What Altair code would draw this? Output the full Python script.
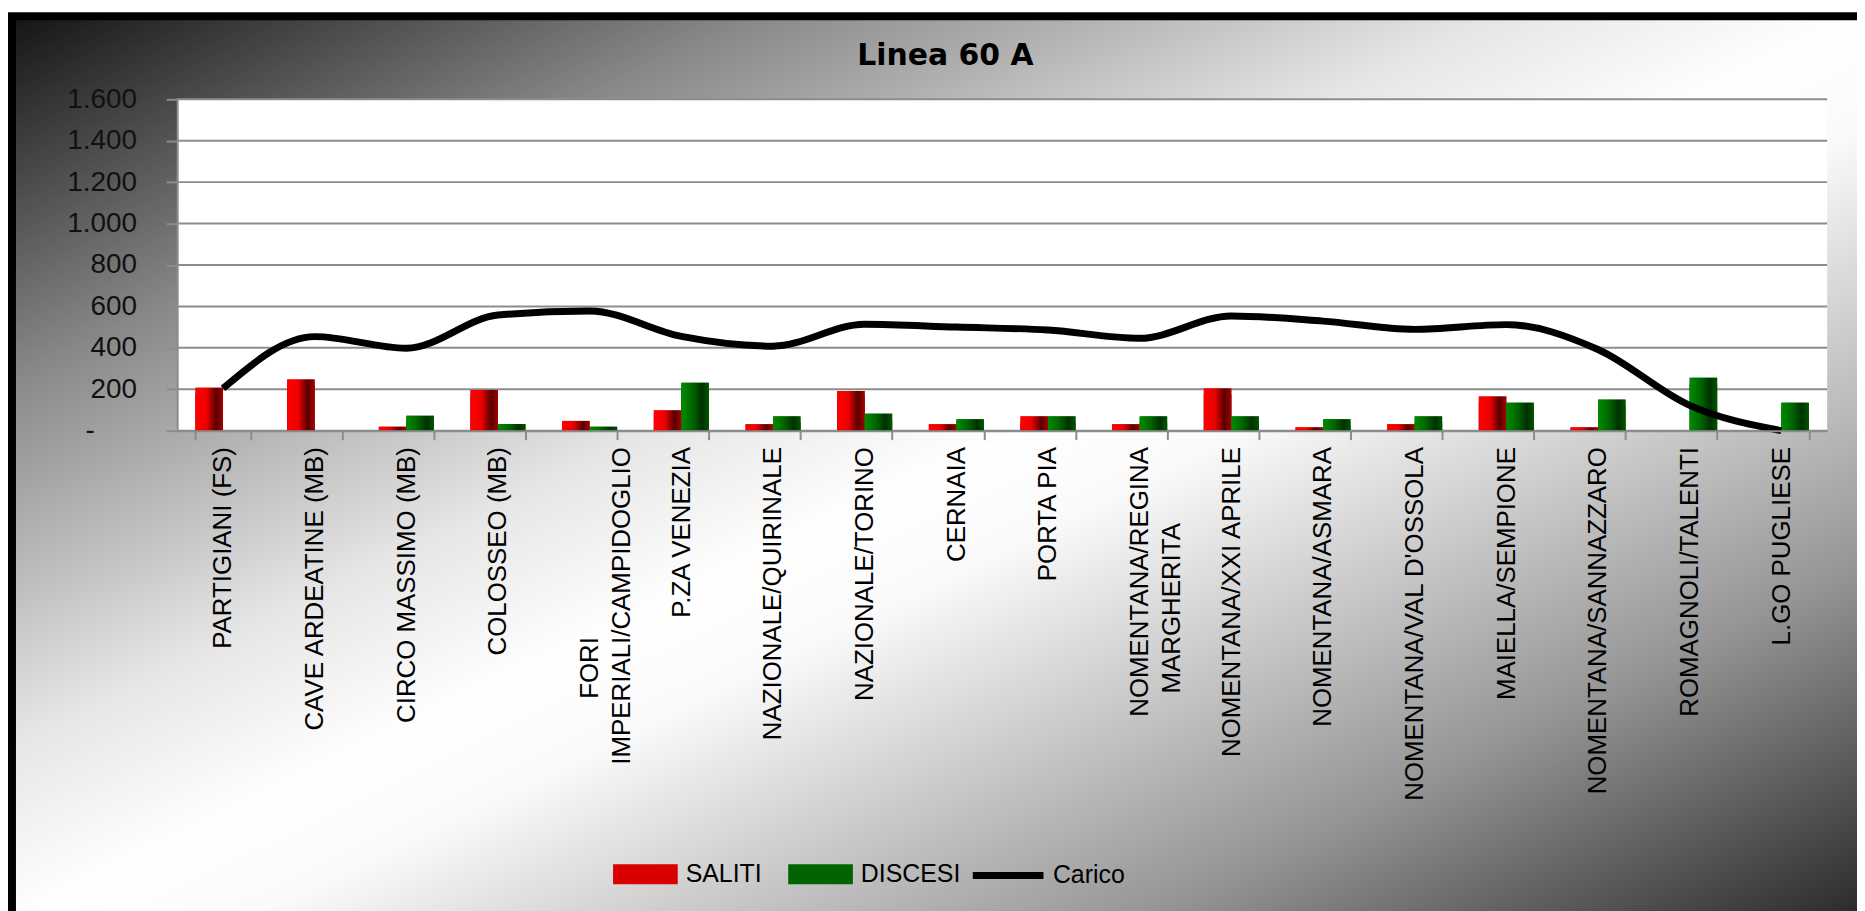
import json
import altair as alt
import pandas as pd

# ---------------- data ----------------
stations = [
    "PARTIGIANI (FS)", "CAVE ARDEATINE (MB)", "CIRCO MASSIMO (MB)", "COLOSSEO (MB)",
    "FORI IMPERIALI/CAMPIDOGLIO", "P.ZA VENEZIA", "NAZIONALE/QUIRINALE", "NAZIONALE/TORINO",
    "CERNAIA", "PORTA PIA", "NOMENTANA/REGINA MARGHERITA", "NOMENTANA/XXI APRILE",
    "NOMENTANA/ASMARA", "NOMENTANA/VAL D'OSSOLA", "MAIELLA/SEMPIONE", "NOMENTANA/SANNAZZARO",
    "ROMAGNOLI/TALENTI", "L.GO PUGLIESE",
]
saliti = [207, 247, 19, 196, 47, 98, 31, 192, 31, 69, 31, 203, 16, 31, 165, 16, 0, 0]
discesi = [0, 0, 72, 32, 19, 231, 69, 82, 55, 69, 69, 69, 55, 69, 135, 150, 256, 135]
carico = [204, 454, 398, 558, 578, 455, 408, 514, 500, 486, 446, 554, 529, 489, 512, 392, 122, 0]
series = ["SALITI", "DISCESI"]
line_name = "Carico"
y_ticks = [0, 200, 400, 600, 800, 1000, 1200, 1400, 1600]
title_text = "Linea 60 A"

PAD = "\u2800"  # blank filler glyph used to centre wrapped label lines
# wrapped labels (two lines, centred like the original)
wraps = {
    "FORI IMPERIALI/CAMPIDOGLIO": ["FORI" + PAD * 10, "IMPERIALI/CAMPIDOGLIO"],
    "NOMENTANA/REGINA MARGHERITA": ["NOMENTANA/REGINA", "MARGHERITA" + PAD * 4],
}

df_bars = pd.DataFrame({
    "station": stations * 2,
    "serie": [series[0]] * len(stations) + [series[1]] * len(stations),
    "value": saliti + discesi,
})
df_line = pd.DataFrame({"station": stations, "carico": carico, "serie": line_name})
df_grid = pd.DataFrame({"v": y_ticks})

# ---------------- geometry / style ----------------
W, H = 1658, 333
GRID = "#8c8c8c"
FONT = "Liberation Sans"

x_expr = "datum.value"
for k, v in wraps.items():
    x_expr = f"datum.value === {json.dumps(k, ensure_ascii=False)} ? {json.dumps(v, ensure_ascii=False)} : ({x_expr})"

y_expr = f"datum.value == 0 ? '-{PAD * 2}' : replace(format(datum.value, ','), ',', '.')"

x_scale = alt.Scale(domain=stations, paddingInner=0.4, paddingOuter=0.2)
y_scale = alt.Scale(domain=[0, 1600], nice=False)

x_axis = alt.Axis(
    title=None, labelAngle=-90, labelExpr=x_expr, labelFont=FONT, labelFontSize=26,
    labelColor="#000000", labelLimit=1000, labelLineHeight=32, labelPadding=7,
    tickBand="extent", tickSize=9, tickColor=GRID, tickWidth=2,
    domainColor=GRID, domainWidth=2, grid=False, zindex=1,
)
y_axis = alt.Axis(
    title=None, values=y_ticks, labelExpr=y_expr, labelFont=FONT, labelFontSize=28,
    labelColor="#111111", labelPadding=30, tickSize=11, tickColor=GRID, tickWidth=2,
    domainColor=GRID, domainWidth=2, grid=False, zindex=1,
)

def grad(stops):
    return alt.LinearGradient(
        gradient="linear", x1=0, y1=0, x2=1, y2=0,
        stops=[alt.GradientStop(offset=o, color=c) for o, c in stops],
    )

red_grad = grad([(0, "#ff0000"), (0.4, "#ee0000"), (0.75, "#560000"), (1, "#a80000")])
green_grad = grad([(0, "#008c00"), (0.4, "#006600"), (0.75, "#003000"), (1, "#005600")])
bg_grad = alt.LinearGradient(
    gradient="linear", x1=0, y1=0, x2=1, y2=1,
    stops=[alt.GradientStop(offset=o, color=c) for o, c in [
        (0, "#141414"), (0.2, "#888888"), (0.4, "#e6e6e6"), (0.5, "#ffffff"),
        (0.56, "#fafafa"), (0.8, "#959595"), (1, "#262626")]],
)

one = alt.Data(values=[{"k": 1}])

background = alt.Chart(one).mark_rect(fill=bg_grad, stroke="#000000", strokeWidth=8).encode(
    x=alt.value(-166), x2=alt.value(1700), y=alt.value(-83.5), y2=alt.value(830)
)
plot_bg = alt.Chart(one).mark_rect(fill="#ffffff").encode(
    x=alt.value(0), x2=alt.value(W), y=alt.value(0), y2=alt.value(H)
)
grid = alt.Chart(df_grid).mark_rule(color=GRID, strokeWidth=2).encode(
    y=alt.Y("v:Q", scale=y_scale, axis=y_axis)
)

bar_base = alt.Chart(df_bars).encode(
    x=alt.X("station:N", scale=x_scale, axis=x_axis),
    xOffset=alt.XOffset("serie:N", scale=alt.Scale(domain=series)),
    y=alt.Y("value:Q", scale=y_scale, axis=y_axis),
)
shadow = bar_base.mark_bar(color="#000000", xOffset=5, yOffset=6, clip=True)
bars = bar_base.mark_bar().encode(
    fill=alt.Fill(
        "serie:N",
        scale=alt.Scale(domain=series, range=["#d80000", "#006400"]),
        legend=alt.Legend(
            title=None, orient="none", legendX=438, legendY=746, direction="horizontal",
            symbolType="M-1,-0.31H1V0.31H-1Z", symbolSize=4225, symbolStrokeWidth=0,
            labelFont=FONT, labelFontSize=25, labelColor="#000000", labelOffset=8,
            columnPadding=26, padding=0,
        ),
    )
)
sal = bar_base.transform_filter(alt.datum.serie == series[0]).mark_bar(fill=red_grad)
dis = bar_base.transform_filter(alt.datum.serie == series[1]).mark_bar(fill=green_grad)

line = alt.Chart(df_line).mark_line(strokeWidth=7, interpolate="monotone", strokeJoin="round").encode(
    x=alt.X("station:N", scale=x_scale, axis=x_axis),
    y=alt.Y("carico:Q", scale=y_scale, axis=y_axis),
    stroke=alt.Stroke(
        "serie:N",
        scale=alt.Scale(domain=[line_name], range=["#000000"]),
        legend=alt.Legend(
            title=None, orient="none", legendX=796, legendY=741, direction="horizontal",
            symbolType="stroke", symbolSize=5041, symbolStrokeWidth=7,
            labelFont=FONT, labelFontSize=25, labelColor="#000000", labelOffset=6, padding=0,
        ),
    ),
)

chart = alt.layer(background, plot_bg, grid, shadow, bars, sal, dis, line).properties(
    width=W,
    height=H,
    title=alt.TitleParams(
        title_text, font="DejaVu Sans", fontSize=30, fontWeight="bold", color="#000000",
        anchor="middle", frame="group", dx=-57, dy=2, offset=-57,
    ),
    padding={"left": 170, "top": 89.5, "right": 30, "bottom": 490},
    autosize=alt.AutoSizeParams(type="none"),
).configure_view(stroke="transparent").configure(background="#ffffff")

chart.save("out.html", embed_options={"renderer": "svg", "actions": False})
